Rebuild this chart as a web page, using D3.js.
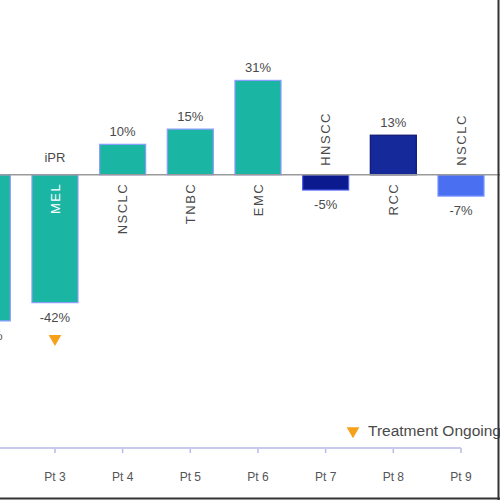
<!DOCTYPE html>
<html>
<head>
<meta charset="utf-8">
<script src="https://cdn.jsdelivr.net/npm/d3@7"></script>
<style>
  body { margin: 0; background: #fff; }
  svg { display: block; font-family: "Liberation Sans", Arial, sans-serif; }
</style>
</head>
<body>
<div class="chart"></div>
<script>
// waterfall of best % change, one bar per patient
var patients   = ["Pt 2", "Pt 3", "Pt 4", "Pt 5", "Pt 6", "Pt 7", "Pt 8", "Pt 9"];
var changes    = [-48, -42, 10, 15, 31, -5, 13, -7];
var tumorTypes = ["", "MEL", "NSCLC", "TNBC", "EMC", "HNSCC", "RCC", "NSCLC"];
var responses  = ["", "iPR", "", "", "", "", "", ""];
var ongoing    = [false, true, false, false, false, false, false, false];
var cohorts    = ["A", "A", "A", "A", "A", "B", "C", "D"];
var tickLabels = ["Pt 3", "Pt 4", "Pt 5", "Pt 6", "Pt 7", "Pt 8", "Pt 9"];
var legendText = "Treatment Ongoing";

var width = 500, height = 500;

var fillColor = d3.scaleOrdinal()
    .domain(["A", "B", "C", "D"])
    .range(["#1bb5a4", "#0b1a8e", "#15299a", "#4a6ff1"]);
var strokeColor = d3.scaleOrdinal()
    .domain(["A", "B", "C", "D"])
    .range(["#8c9cff", "#4a5cf0", "#0a1670", "#7b95ff"]);

var svg = d3.select(".chart").append("svg")
    .attr("width", width)
    .attr("height", height);

var step = 67.67;
var x = d3.scaleBand()
    .domain(patients)
    .range([-12.7 - step / 2, -12.7 - step / 2 + step * patients.length])
    .paddingInner(0.32)
    .paddingOuter(0.16);

var y = d3.scaleLinear()
    .domain([-50, 40])
    .range([327, 53]);

var y0 = y(0);

// bars
svg.selectAll(".bar")
    .data(changes)
    .enter().append("rect")
    .attr("class", "bar")
    .attr("x", function(d, i) { return x(patients[i]); })
    .attr("width", x.bandwidth())
    .attr("y", function(d) { return d >= 0 ? y(d) : y0; })
    .attr("height", function(d) { return Math.abs(y(d) - y0); })
    .style("fill", function(d, i) { return fillColor(cohorts[i]); })
    .style("stroke", function(d, i) { return strokeColor(cohorts[i]); })
    .style("stroke-width", 1.2);

// zero line
svg.append("line")
    .attr("x1", 0).attr("x2", width)
    .attr("y1", y0).attr("y2", y0)
    .style("stroke", "#9a9a9a")
    .style("stroke-width", 1.5);

// value labels
svg.selectAll(".val")
    .data(changes)
    .enter().append("text")
    .attr("class", "val")
    .attr("x", function(d, i) { return x(patients[i]) + x.bandwidth() / 2; })
    .attr("y", function(d) { return d >= 0 ? y(d) - 8 : y(d) + 19; })
    .attr("text-anchor", "middle")
    .style("font-size", "13px")
    .style("fill", "#4a4a4a")
    .text(function(d) { return d + "%"; });

// response labels above the line
svg.selectAll(".resp")
    .data(responses)
    .enter().append("text")
    .attr("class", "resp")
    .attr("x", function(d, i) { return x(patients[i]) + x.bandwidth() / 2; })
    .attr("y", y0 - 13)
    .attr("text-anchor", "middle")
    .style("font-size", "13px")
    .style("fill", "#4a4a4a")
    .text(function(d) { return d; });

// tumour type, rotated
svg.selectAll(".type")
    .data(tumorTypes)
    .enter().append("text")
    .attr("class", "type")
    .attr("transform", function(d, i) {
        var cx = x(patients[i]) + x.bandwidth() / 2;
        var ty = changes[i] >= 0 || responses[i] ? y0 + 8 : y0 - 9;
        return "translate(" + cx + "," + ty + ") rotate(-90)";
    })
    .attr("dy", "0.36em")
    .attr("text-anchor", function(d, i) { return changes[i] >= 0 || responses[i] ? "end" : "start"; })
    .style("font-size", "13px")
    .style("letter-spacing", "1.5px")
    .style("fill", function(d, i) { return responses[i] ? "#ffffff" : "#4a4a4a"; })
    .text(function(d) { return d; });

// ongoing markers
var tri = d3.symbol().type(d3.symbolTriangle).size(70);
svg.selectAll(".ongoing")
    .data(changes.filter(function(d, i) { return ongoing[i]; }))
    .enter().append("path")
    .attr("class", "ongoing")
    .attr("transform", function(d) {
        var i = changes.indexOf(d);
        return "translate(" + (x(patients[i]) + x.bandwidth() / 2) + "," + (y(d) + 36) + ") rotate(180)";
    })
    .attr("d", tri)
    .style("fill", "#f7a11a");

// bottom axis
var axisY = 448;
var axis = svg.append("g")
    .attr("transform", "translate(0," + axisY + ")")
    .call(d3.axisBottom(x).tickValues(tickLabels).tickSize(5).tickPadding(19));
axis.select(".domain").remove();
axis.append("line")
    .attr("x1", 0)
    .attr("x2", x("Pt 9") + x.bandwidth() / 2)
    .style("stroke", "#c9c9f0")
    .style("stroke-width", 2);
axis.selectAll(".tick line")
    .style("stroke", "#b9b9ea")
    .style("stroke-width", 1.5);
axis.selectAll(".tick text")
    .style("font-size", "12px")
    .style("font-family", "'Liberation Sans', Arial, sans-serif")
    .style("fill", "#555");

// legend
svg.append("path")
    .attr("transform", "translate(353,431) rotate(180)")
    .attr("d", tri)
    .style("fill", "#f7a11a");
svg.append("text")
    .attr("x", 368)
    .attr("y", 436)
    .style("font-size", "15.5px")
    .style("fill", "#4a4a4a")
    .text(legendText);

// frame edges
svg.append("line")
    .attr("x1", 498.5).attr("x2", 498.5)
    .attr("y1", 0).attr("y2", height)
    .style("stroke", "#333").style("stroke-width", 2);
svg.append("line")
    .attr("x1", 0).attr("x2", width)
    .attr("y1", 498.5).attr("y2", 498.5)
    .style("stroke", "#333").style("stroke-width", 2);
</script>
</body>
</html>
